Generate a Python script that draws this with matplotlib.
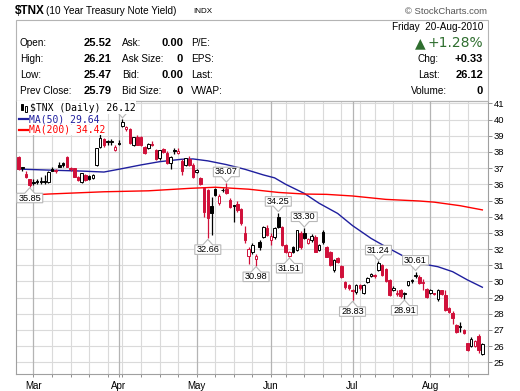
import matplotlib
matplotlib.use("Agg")
import matplotlib.pyplot as plt
import matplotlib.patches as mpatches
from matplotlib.transforms import IdentityTransform
import numpy as np
import pandas as pd

W, H = 520, 391

# trading days shown (CBOE closed on these)
holidays = ["2010-04-02", "2010-05-31", "2010-07-05"]

opens = [37.70, 37.05, 36.65, 36.30, 36.15, 36.22, 36.18, 36.20, 36.16, 36.95,
         36.80, 37.20, 37.30, 37.70, 37.00, 36.98, 36.45, 36.16, 36.56, 36.50,
         36.37, 37.20, 38.33, 38.80, 38.62, 38.60, 38.10, 38.55, 39.60, 39.45,
         39.45, 38.45, 38.95, 38.90, 38.30, 38.25, 38.50, 38.15, 37.60, 38.17,
         37.95, 37.30, 38.10, 37.95, 37.45, 37.20, 37.55, 37.20, 36.75, 36.40,
         35.75, 35.65, 34.66, 35.70, 34.86, 35.62, 35.70, 35.03, 34.70, 34.80,
         34.50, 33.00, 31.57, 31.84, 31.36, 32.46, 32.77, 33.28, 32.55, 32.77,
         34.00, 33.38, 32.25, 31.60, 32.14, 31.94, 33.00, 32.97, 32.40, 32.56,
         32.77, 31.94, 33.07, 32.14, 31.84, 30.70, 31.43, 30.95, 29.98, 29.78,
         29.45, 29.36, 29.78, 29.30, 29.98, 30.35, 30.38, 30.70, 31.00, 30.77,
         30.09, 29.48, 29.20, 29.45, 29.20, 29.80, 30.02, 30.32, 30.30, 29.92,
         29.53, 29.30, 29.25, 28.90, 29.45, 29.16, 28.35, 28.05, 27.30, 27.22,
         27.00, 26.17, 26.00, 26.00, 26.65, 25.52]
highs = [37.78, 37.10, 36.85, 36.35, 36.30, 36.30, 36.45, 36.55, 36.82, 37.05,
         36.95, 37.35, 37.40, 37.78, 37.05, 37.00, 36.50, 36.70, 36.65, 36.60,
         36.65, 38.25, 39.15, 38.85, 38.75, 38.78, 38.45, 38.75, 40.05, 39.60,
         39.50, 38.95, 39.05, 39.00, 38.35, 38.55, 38.65, 38.20, 38.15, 38.25,
         38.05, 37.75, 38.25, 38.25, 37.55, 37.65, 37.75, 37.30, 36.95, 36.45,
         35.85, 35.70, 35.24, 35.75, 35.40, 35.80, 36.07, 35.15, 34.75, 34.95,
         34.55, 33.40, 32.10, 32.40, 31.70, 32.55, 33.40, 33.50, 33.00, 33.35,
         34.25, 33.45, 32.30, 31.90, 32.20, 33.20, 33.10, 33.30, 32.70, 32.90,
         32.85, 32.30, 33.20, 32.20, 31.90, 31.40, 31.50, 31.00, 30.05, 29.85,
         29.55, 29.85, 29.85, 29.85, 30.30, 30.50, 30.45, 31.24, 31.10, 30.85,
         30.15, 29.70, 29.45, 29.55, 29.35, 30.05, 30.15, 30.61, 30.40, 30.15,
         29.60, 29.55, 29.30, 29.55, 29.50, 29.45, 28.40, 28.15, 27.35, 27.50,
         27.05, 26.20, 26.55, 26.35, 26.75, 26.21]
lows = [36.88, 36.80, 36.40, 35.85, 35.95, 36.00, 36.05, 36.00, 36.10, 36.80,
        36.70, 37.05, 37.10, 37.05, 36.85, 36.45, 36.20, 36.10, 36.20, 36.25,
        36.30, 37.15, 38.25, 38.30, 38.40, 38.45, 38.05, 38.40, 39.55, 39.30,
        38.50, 38.35, 38.40, 38.35, 37.90, 38.20, 38.35, 37.50, 37.50, 37.95,
        37.25, 36.95, 37.85, 37.90, 36.60, 37.15, 37.15, 36.40, 36.70, 35.95,
        34.00, 32.66, 32.87, 35.25, 34.75, 35.55, 35.40, 34.55, 33.65, 34.30,
        33.50, 32.40, 31.10, 31.70, 30.98, 31.95, 32.70, 32.80, 32.25, 32.60,
        33.30, 32.20, 31.75, 31.51, 31.75, 31.90, 32.00, 32.60, 32.30, 32.45,
        31.80, 31.85, 32.30, 31.50, 30.95, 30.60, 31.15, 30.20, 29.55, 29.50,
        28.83, 29.20, 29.45, 29.25, 29.90, 30.25, 30.20, 30.65, 30.35, 29.95,
        29.10, 29.40, 29.10, 29.00, 28.91, 29.70, 29.90, 30.20, 29.85, 29.50,
        28.95, 29.25, 29.15, 28.80, 29.15, 28.20, 28.05, 27.35, 26.80, 26.85,
        26.75, 25.70, 25.95, 25.95, 25.60, 25.47]
closes = [36.95, 37.00, 36.45, 35.95, 36.10, 36.12, 36.15, 36.16, 36.78, 36.85,
          36.83, 37.10, 37.20, 37.10, 36.92, 36.47, 36.27, 36.68, 36.27, 36.35,
          36.58, 38.22, 38.84, 38.40, 38.60, 38.62, 38.30, 38.52, 39.85, 39.55,
          38.55, 38.90, 38.45, 38.40, 37.95, 38.50, 38.40, 37.55, 38.10, 38.00,
          37.30, 37.70, 38.08, 38.05, 36.85, 37.60, 37.20, 36.47, 36.88, 36.02,
          34.30, 33.90, 34.21, 35.34, 35.30, 35.68, 35.48, 34.62, 34.65, 34.40,
          33.59, 32.56, 32.00, 32.25, 31.57, 32.14, 33.35, 32.87, 32.80, 33.28,
          33.38, 32.25, 31.84, 31.80, 31.84, 33.18, 32.10, 32.66, 32.60, 32.83,
          31.84, 32.25, 32.45, 31.53, 31.00, 31.32, 31.22, 30.29, 29.63, 29.57,
          29.40, 29.78, 29.57, 29.80, 30.23, 30.45, 30.35, 31.12, 30.40, 30.00,
          29.16, 29.60, 29.30, 29.10, 29.28, 30.00, 30.05, 30.35, 29.90, 29.88,
          29.05, 29.50, 29.20, 29.45, 29.20, 28.23, 28.10, 27.72, 26.85, 27.18,
          26.80, 25.76, 26.45, 26.30, 25.79, 26.12]

# moving averages (trading-day index, value)
ma50_idx = [-1, 8, 17, 23, 27, 33, 38, 44, 47, 51, 56, 61, 66, 69, 72, 77, 81, 86,
            90, 95, 99, 104, 108, 113, 117, 121, 125]
ma50_val = [36.95, 36.88, 36.82, 36.76, 36.93, 37.20, 37.40, 37.55, 37.57, 37.45,
            37.22, 36.93, 36.58, 36.40, 36.00, 35.44, 34.83, 34.20, 33.45, 32.66,
            32.14, 31.53, 31.12, 30.91, 30.60, 30.09, 29.64]
ma200_idx = [-1, 8, 23, 35, 46, 53, 62, 70, 77, 83, 90, 99, 108, 112, 119, 125]
ma200_val = [35.28, 35.40, 35.54, 35.60, 35.75, 35.82, 35.70, 35.50, 35.40, 35.38,
             35.28, 35.07, 34.97, 34.90, 34.68, 34.42]

# highs / lows that carry a value tag
callouts = [(3, "low"), (51, "low"), (56, "high"), (64, "low"), (70, "high"),
            (73, "low"), (77, "high"), (90, "low"), (97, "high"), (104, "low"),
            (107, "high")]

dates = pd.bdate_range("2010-02-23", "2010-08-20")
dates = dates[~dates.isin(pd.to_datetime(holidays))]

O = np.array(opens); Hh = np.array(highs); L = np.array(lows); C = np.array(closes)
x = np.arange(len(C))

RED = "#d0103a"
fig = plt.figure(figsize=(W / 100, H / 100), dpi=100)
fig.patch.set_facecolor("white")
PX = IdentityTransform()

def ftext(px, py, s, **kw):
    kw.setdefault("va", "center")
    fig.text(px / W, 1 - py / H, s, **kw)

# ---- header ----
ftext(15, 10.5, "$TNX", fontsize=8.5, fontweight="bold", family="Liberation Sans")
ftext(46.5, 11, "(10 Year Treasury Note Yield)", fontsize=7.2, family="Liberation Sans")
ftext(193, 11.5, "INDX", fontsize=5.8, family="Liberation Sans")
ftext(487, 12, "\u00a9 StockCharts.com", fontsize=6.8, color="#555555",
      family="Liberation Sans", ha="right")

fig.add_artist(mpatches.Rectangle((16, H - 101), 471.5, 101 - 20, transform=PX,
                                  fill=False, edgecolor="#b4b4b4", lw=0.8))

lab = dict(fontsize=7.2, family="Liberation Sans")
val = dict(fontsize=8, family="Liberation Sans", fontweight="bold", ha="right")
rows_y = [43, 59, 75, 91]
for y, a, b, c, d, e in zip(rows_y,
                            ["Open:", "High:", "Low:", "Prev Close:"],
                            ["25.52", "26.21", "25.47", "25.79"],
                            ["Ask:", "Ask Size:", "Bid:", "Bid Size:"],
                            ["0.00", "0", "0.00", "0"],
                            ["P/E:", "EPS:", "Last:", "VWAP:"]):
    ftext(20, y, a, **lab)
    ftext(112, y, b, **val)
    ftext(122, y, c, **lab)
    ftext(183, y, d, **val)
    ftext(191, y, e, **lab)

ftext(483, 27, "Friday  20-Aug-2010", ha="right", **lab)
ftext(420, 43, "\u25B2", fontsize=10, color="#2f6e2f", ha="center", family="DejaVu Sans")
ftext(483, 43, "+1.28%", fontsize=10, color="#2f6e2f", ha="right", family="DejaVu Sans")
for y, a, b in zip([59, 75, 91], ["Chg:", "Last:", "Volume:"], ["+0.33", "26.12", "0"]):
    ftext(418 if a != "Volume:" else 411, y, a, **lab)
    ftext(483, y, b, **val)

# ---- price panel ----
ax_l, ax_r, ax_t, ax_b = 16, 487.5, 101, 374.3
ax = fig.add_axes([ax_l / W, (H - ax_b) / H, (ax_r - ax_l) / W, (ax_b - ax_t) / H])
step = 3.71
x0 = -(18.6 - ax_l) / step
ax.set_xlim(x0, x0 + (ax_r - ax_l) / step)
ax.set_ylim(24.26, 41.15)

months = dates.month
month_start = [i for i in range(1, len(dates)) if months[i] != months[i - 1]]
week_start = [i for i in range(1, len(dates))
              if dates[i].weekday() < dates[i - 1].weekday() and i not in month_start]

for v in range(25, 42):
    ax.axhline(v, color="#dadada", lw=0.8, zorder=0)
for i in week_start:
    ax.axvline(i, color="#dadada", lw=0.8, zorder=0)
for i in month_start:
    ax.axvline(i, color="#b4b4b4", lw=0.9, zorder=0)

ax.plot(ma50_idx, ma50_val, color="#1f1f9e", lw=1.0, zorder=2)
ax.plot(ma200_idx, ma200_val, color="#ff0000", lw=1.0, zorder=2)

prev = np.r_[O[0], C[:-1]]
edge = np.where(C < prev, RED, "black")
face = np.where(C < O, edge, "white")
ax.vlines(x, L, Hh, colors=edge, lw=0.9, zorder=3)
ax.bar(x, np.maximum(np.abs(C - O), 0.06), bottom=np.minimum(O, C), width=0.68,
       color=face, edgecolor=edge, linewidth=0.7, zorder=4)

for s in ax.spines.values():
    s.set_color("#a0a0a0")
    s.set_linewidth(0.8)
ax.yaxis.tick_right()
ax.set_yticks(range(25, 42))
ax.set_yticklabels([str(v) for v in range(25, 42)], fontsize=6.8, family="Liberation Sans")
ax.tick_params(axis="y", length=3, width=0.7, color="#909090", pad=1.5)
ax.set_xticks(month_start)
ax.set_xticklabels([d.strftime("%b") for d in dates[month_start]], fontsize=7,
                   family="Liberation Sans")
ax.set_xticks(week_start, minor=True)
ax.tick_params(axis="x", which="both", length=2.5, width=0.7, color="#909090", pad=2)

# value tags on highs / lows
def tag(i, kind, text=None):
    v = Hh[i] if kind == "high" else L[i]
    px, py = ax.transData.transform((i, v))
    hw, nh, bh, bw = 5, 5.5, 9.5, 13
    if kind == "low":
        apex = py - 1
        edge_y = apex - nh
        far = edge_y - bh
    else:
        apex = py + 1
        edge_y = apex + nh
        far = edge_y + bh
    pts = [(px - bw, edge_y), (px - hw, edge_y), (px, apex), (px + hw, edge_y),
           (px + bw, edge_y), (px + bw, far), (px - bw, far)]
    fig.add_artist(mpatches.Polygon(pts, closed=True, transform=PX, facecolor="white",
                                    edgecolor="#b8b8b8", lw=0.8, zorder=5))
    label = f"{v:.2f}" if text is None else text
    fig.text((px) / W, ((edge_y + far) / 2) / H, label, ha="center", va="center",
             fontsize=6.6, family="Liberation Sans", zorder=6)

for i, kind in callouts:
    tag(i, kind)
tag(28, "high", text="")

# legend block
fig.add_artist(mpatches.Rectangle((16.5, H - 113.5), 119, 12.5, transform=PX,
                                  facecolor="white", edgecolor="none", zorder=7))
for bx, by, filled in [(20.5, 104, True), (24.5, 106, False)]:
    fig.add_artist(mpatches.Rectangle((bx, H - by - 6), 2.5, 6, transform=PX,
                                      facecolor="black" if filled else "white",
                                      edgecolor="black", lw=0.7, zorder=8))
ftext(30, 108, "$TNX (Daily) 26.12", fontsize=7, family="DejaVu Sans Mono", zorder=8)
for y, txt, col in [(119, "MA(50) 29.64", "#1f1f9e"), (129.5, "MA(200) 34.42", "#ff0000")]:
    fig.add_artist(mpatches.Rectangle((16.5, H - y - 5), 12 + 5.85 * len(txt), 10,
                                      transform=PX, facecolor="white", edgecolor="none",
                                      zorder=7))
    fig.add_artist(plt.Line2D([19, 28], [H - y, H - y], transform=PX, color=col,
                              lw=1.6, zorder=8))
    ftext(29, y, txt, fontsize=7, family="DejaVu Sans Mono", color=col, zorder=8)

fig.savefig("out.png", dpi=100, facecolor="white")
